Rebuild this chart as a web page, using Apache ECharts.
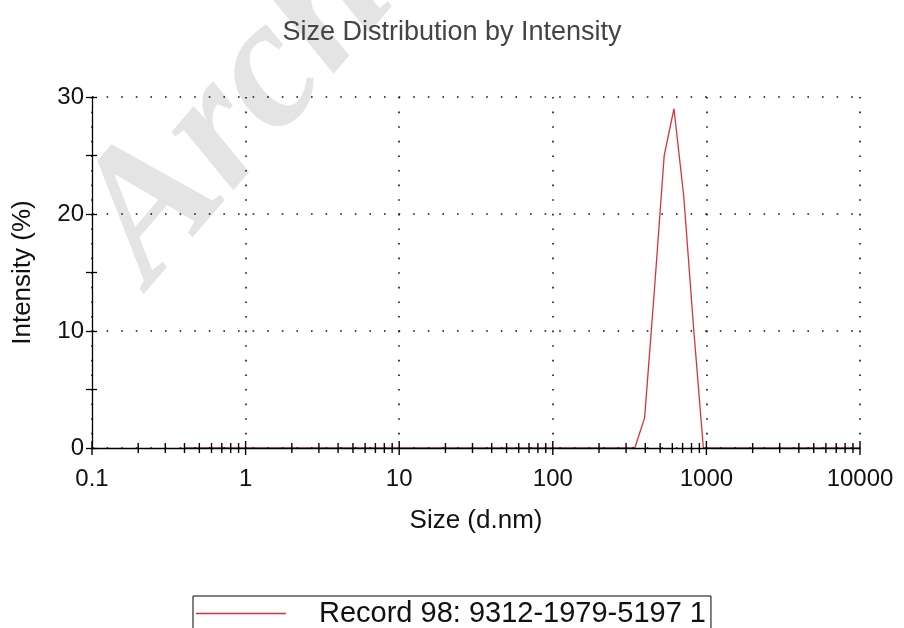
<!DOCTYPE html>
<html>
<head>
<meta charset="utf-8">
<script src="https://cdn.jsdelivr.net/npm/echarts@6/dist/echarts.min.js"></script>
<style>
  html, body { margin: 0; padding: 0; background: #fff; }
  #chart { width: 904px; height: 628px; }
</style>
</head>
<body>
<div id="chart"></div>
<script>
// size bins (d.nm) and intensity (%)
const sizes = [0.4, 0.4632, 0.5365, 0.6213, 0.7195, 0.8332, 0.9649, 1.117, 1.294, 1.499,
  1.736, 2.01, 2.328, 2.696, 3.122, 3.615, 4.187, 4.849, 5.615, 6.503,
  7.531, 8.721, 10.1, 11.7, 13.54, 15.69, 18.17, 21.04, 24.36, 28.21,
  32.67, 37.84, 43.82, 50.75, 58.77, 68.06, 78.82, 91.28, 105.7, 122.4,
  141.8, 164.2, 190.1, 220.2, 255, 295.3, 342, 396.1, 458.7, 531.2,
  615.1, 712.4, 825, 955.4, 1106, 1281, 1484, 1718, 1990, 2305,
  2669, 3091, 3580, 4145, 4801, 5560, 6439, 7456, 8635, 10000]
const intensity = [0, 0, 0, 0, 0, 0, 0, 0, 0, 0,
  0, 0, 0, 0, 0, 0, 0, 0, 0, 0,
  0, 0, 0, 0, 0, 0, 0, 0, 0, 0,
  0, 0, 0, 0, 0, 0, 0, 0, 0, 0,
  0, 0, 0, 0, 0, 0, 0, 2.6, 13.5, 25.0,
  29.0, 21.5, 10.3, 0, 0, 0, 0, 0, 0, 0,
  0, 0, 0, 0, 0, 0, 0, 0, 0, 0]

const seriesName = "Record 98: 9312-1979-5197 1"
const decades = [0.1, 1, 10, 100, 1000, 10000]
const minorSteps = [2, 3, 4, 5, 6, 7, 8, 9]

const xTicks = []
decades.forEach((d, i) => {
  xTicks.push([d, 1])
  if (i < decades.length - 1) minorSteps.forEach(k => xTicks.push([d * k, 0]))
})

const font = "Liberation Sans, Arial, sans-serif"
const dotted = {color: "#111", width: 1.6, type: [1.6, 13]}

const chart = echarts.init(document.getElementById("chart"))
chart.setOption({
  animation: false,
  backgroundColor: "#fff",
  title: {
    text: "Size Distribution by Intensity",
    left: "center",
    top: 14,
    textStyle: {fontFamily: font, fontSize: 27, fontWeight: "normal", color: "#444"}
  },
  graphic: [{
    type: "text",
    x: 184, y: 316,
    rotation: 0.86,
    silent: true,
    z: -10,
    style: {
      text: "Archive of SID",
      font: "italic bold 185px 'Liberation Serif', serif",
      verticalAlign: "bottom",
      align: "left",
      fill: "#e4e4e4"
    }
  }],
  legend: {
    data: [seriesName],
    left: 193,
    top: 596,
    orient: "horizontal",
    icon: "rect",
    itemWidth: 90,
    itemHeight: 1.5,
    borderColor: "#000",
    borderWidth: 1,
    borderRadius: 0,
    padding: [3, 5, 20, 3],
    textStyle: {fontFamily: font, fontSize: 29, color: "#111", padding: [0, 0, 0, 28]}
  },
  grid: {left: 92, right: 44, top: 97, bottom: 180},
  xAxis: {
    type: "log",
    logBase: 10,
    min: 0.1,
    max: 10000,
    z: 3,
    name: "Size (d.nm)",
    nameLocation: "middle",
    nameGap: 60,
    nameTextStyle: {fontFamily: font, fontSize: 26, color: "#111"},
    axisLine: {lineStyle: {color: "#000", width: 1.3}},
    axisTick: {show: false},
    axisLabel: {
      fontFamily: font, fontSize: 24, color: "#111", margin: 19,
      formatter: v => String(v)
    },
    splitLine: {show: true, lineStyle: dotted}
  },
  yAxis: [
    {
      type: "value",
      min: 0,
      max: 30,
      interval: 10,
      z: 3,
      name: "Intensity (%)",
      nameLocation: "middle",
      nameGap: 56,
      nameTextStyle: {fontFamily: font, fontSize: 26, color: "#111"},
      axisLine: {show: true, lineStyle: {color: "#000", width: 1.3}},
      axisTick: {show: true, length: 6, lineStyle: {color: "#000", width: 1.3}},
      minorTick: {show: true, splitNumber: 2, length: 6, lineStyle: {color: "#000", width: 1.3}},
      axisLabel: {fontFamily: font, fontSize: 24, color: "#111", margin: 8},
      splitLine: {show: true, lineStyle: dotted}
    },
    {
      type: "value",
      min: 0,
      max: 30,
      interval: 10,
      position: "left",
      z: 3,
      axisLine: {show: false},
      axisTick: {show: true, inside: true, length: 5, lineStyle: {color: "#000", width: 1.3}},
      minorTick: {show: true, splitNumber: 2, length: 5, lineStyle: {color: "#000", width: 1.3}},
      axisLabel: {show: false},
      splitLine: {show: false}
    }
  ],
  series: [
    {
      name: seriesName,
      type: "line",
      data: sizes.map((s, i) => [s, intensity[i]]),
      symbol: "none",
      color: "#d7323c",
      lineStyle: {width: 1.3, color: "#d7323c"},
      z: 2
    },
    {
      type: "custom",
      silent: true,
      clip: false,
      z: 5,
      data: xTicks,
      renderItem: (params, api) => {
        const p = api.coord([api.value(0), 0])
        const len = api.value(1) ? 7 : 5
        return {
          type: "line",
          shape: {x1: p[0], y1: p[1] - len, x2: p[0], y2: p[1] + len},
          style: {stroke: "#000", lineWidth: 1.4}
        }
      }
    }
  ]
})
</script>
</body>
</html>
